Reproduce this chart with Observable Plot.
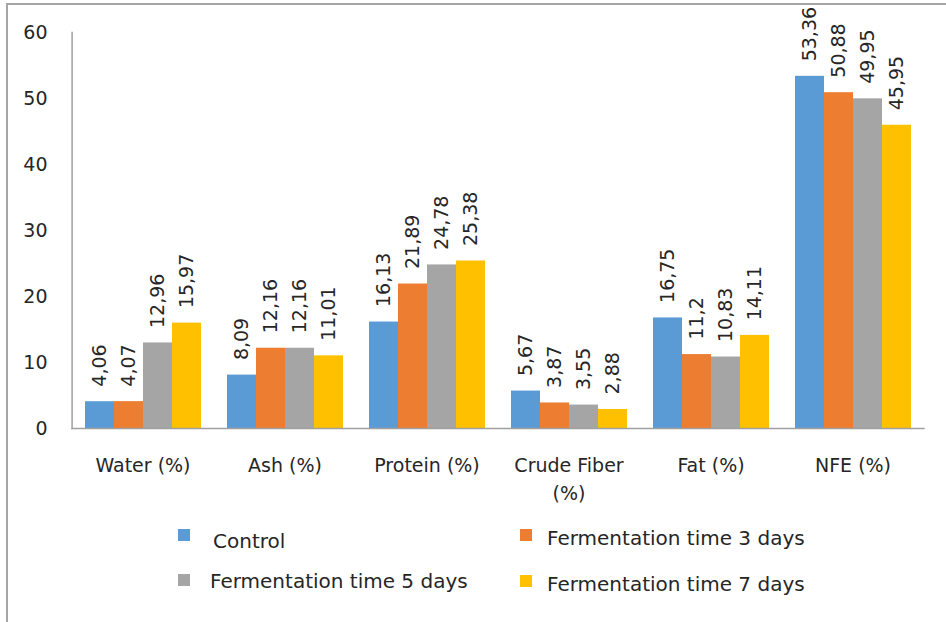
<!DOCTYPE html>
<html>
<head>
<meta charset="utf-8">
<script src="https://cdn.jsdelivr.net/npm/d3@7"></script>
<script src="https://cdn.jsdelivr.net/npm/@observablehq/plot@0.6"></script>
<style>
  html, body { margin: 0; padding: 0; background: #fff; }
  #wrap { position: relative; width: 946px; height: 622px; overflow: hidden; font-family: "DejaVu Sans", sans-serif; }
  #border { position: absolute; left: 6px; top: 3px; width: 960px; height: 640px; border-top: 2px solid #a6a6a6; border-left: 2px solid #a6a6a6; pointer-events: none; }
  #chart svg { display: block; }
  #legend { position: relative; height: 107px; color: #262626; font-size: 20px; }
  .sw { width: 12px; height: 12px; display: inline-block; }
</style>
</head>
<body>
<div id="wrap">
  <div id="chart"></div>
  <div id="legend"></div>
  <div id="border"></div>
</div>
<script>
const categories = ["Water (%)", "Ash (%)", "Protein (%)", "Crude Fiber (%)", "Fat (%)", "NFE (%)"];
const seriesNames = ["Control", "Fermentation time 3 days", "Fermentation time 5 days", "Fermentation time 7 days"];
const seriesColors = ["#5b9bd5", "#ed7d31", "#a5a5a5", "#ffc000"];
const control = [4.06, 8.09, 16.13, 5.67, 16.75, 53.36];
const days3 = [4.07, 12.16, 21.89, 3.87, 11.2, 50.88];
const days5 = [12.96, 12.16, 24.78, 3.55, 10.83, 49.95];
const days7 = [15.97, 11.01, 25.38, 2.88, 14.11, 45.95];
const yTicks = [0, 10, 20, 30, 40, 50, 60];

const seriesValues = [control, days3, days5, days7];
const data = [];
seriesNames.forEach((s, j) => categories.forEach((c, i) => data.push({category: c, series: s, value: seriesValues[j][i]})));

const fmt = v => String(v).replace(".", ",");

const chart = Plot.plot({
  width: 946,
  height: 515,
  marginLeft: 71,
  marginRight: 21,
  marginTop: 32,
  marginBottom: 87,
  style: {fontFamily: "DejaVu Sans, sans-serif", color: "#262626", background: "transparent"},
  fx: {domain: categories, paddingInner: 0.16, paddingOuter: 0.08, label: null},
  x: {domain: seriesNames, padding: 0, axis: null},
  y: {domain: [0, 60], label: null},
  color: {domain: seriesNames, range: seriesColors},
  marks: [
    Plot.axisY({ticks: yTicks, tickSize: 0, tickPadding: 36, fontSize: 19, label: null, fill: "#262626"}),
    Plot.axisFx({anchor: "bottom", tickSize: 0, tickPadding: 24, fontSize: 19, fill: "#262626", label: null,
      tickFormat: d => d === "Crude Fiber (%)" ? "Crude Fiber\n(%)" : d, lineAnchor: "top", lineHeight: 1.45}),
    Plot.barY(data, {fx: "category", x: "series", y: "value", fill: "series"}),
    Plot.text(data, {fx: "category", x: "series", y: "value", text: d => fmt(d.value),
      rotate: -90, textAnchor: "start", dy: -15, fontSize: 19, fill: "#262626"}),
    Plot.frame({anchor: "bottom", stroke: "#a0a0a0", strokeWidth: 1.5, facet: "super", insetLeft: -11.4, insetRight: -11.4}),
    Plot.frame({anchor: "left", stroke: "#a0a0a0", strokeWidth: 1.5, facet: "super", insetLeft: -11.4})
  ]
});
document.getElementById("chart").appendChild(chart);

const legend = document.getElementById("legend");
const pos = [
  {sx: 178, tx: 213, sy: 20, ty: 26},
  {sx: 520, tx: 547, sy: 20, ty: 23},
  {sx: 178, tx: 210, sy: 65, ty: 66},
  {sx: 520, tx: 547, sy: 66, ty: 69}
];
seriesNames.forEach((s, j) => {
  const p = pos[j];
  const sw = document.createElement("span");
  sw.className = "sw";
  sw.style.cssText = `position:absolute;left:${p.sx}px;top:${p.sy - 6}px;background:${seriesColors[j]}`;
  legend.appendChild(sw);
  const t = document.createElement("span");
  t.textContent = s;
  t.style.cssText = `position:absolute;left:${p.tx}px;top:${p.ty - 13}px;line-height:26px;white-space:nowrap;`;
  legend.appendChild(t);
});
</script>
</body>
</html>
